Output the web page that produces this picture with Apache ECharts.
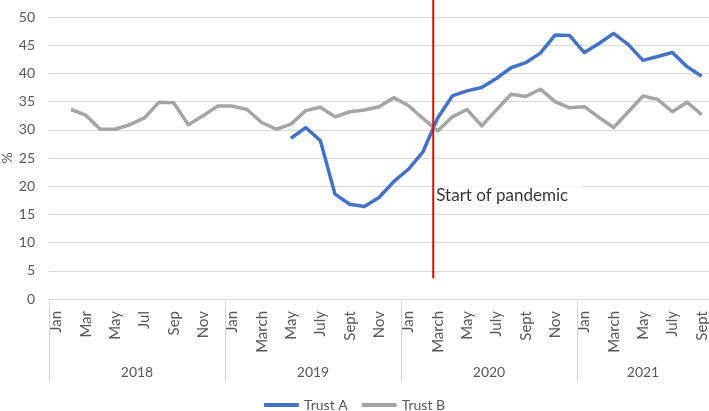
<!DOCTYPE html>
<html>
<head>
<meta charset="utf-8">
<script src="https://cdn.jsdelivr.net/npm/echarts@6/dist/echarts.min.js"></script>
<style>html,body{margin:0;padding:0;background:#fff;}#c{width:709px;height:411px;}</style>
</head>
<body>
<div id="c"></div>
<script>
// Monthly categories Jan 2018 .. Sept 2021
const months = [
  'Jan','Feb','Mar','Apr','May','Jun','Jul','Aug','Sep','Oct','Nov','Dec',
  'Jan','Feb','March','Apr','May','June','July','Aug','Sept','Oct','Nov','Dec',
  'Jan','Feb','March','Apr','May','June','July','Aug','Sept','Oct','Nov','Dec',
  'Jan','Feb','March','Apr','May','June','July','Aug','Sept'
];
const years = ['2018','2019','2020','2021'];
const monthsPerYear = [12, 12, 12, 9];

const trustA = [
  null,null,null,null,null,null,null,null,null,null,null,null,
  null,null,null,null,28.5,30.4,28.1,18.6,16.8,16.4,18.0,20.8,
  23.0,26.1,32.1,36.0,36.9,37.5,39.1,41.0,41.9,43.6,46.8,46.7,
  43.7,45.3,47.1,45.1,42.3,43.0,43.7,41.2,39.5
];
const trustB = [
  null,33.6,32.6,30.1,30.1,30.9,32.1,34.9,34.8,30.9,32.5,34.2,
  34.2,33.6,31.3,30.1,31.0,33.4,34.0,32.3,33.2,33.5,34.1,35.7,
  34.3,32.0,29.8,32.3,33.6,30.7,33.5,36.3,35.9,37.2,35.0,33.9,
  34.1,32.2,30.4,33.2,36.0,35.4,33.2,34.9,32.7
];
// Start of pandemic, in months elapsed since the start of Jan 2018
const pandemicStart = 26.2;
const pandemicLine = [3.7, 53];
const pandemicLabelY = 18.3;
const pandemicText = 'Start of pandemic';

// Year-level labels: one label per year, centred on its span
const yearAxisData = months.map(() => '');
const yearShift = months.map(() => false);
let start = 0;
years.forEach((y, i) => {
  const n = monthsPerYear[i];
  const idx = start + Math.floor(n / 2);
  yearAxisData[idx] = y;
  yearShift[idx] = (n % 2 === 0);
  start += n;
});
const yearStarts = [];
start = 0;
monthsPerYear.forEach(n => { yearStarts.push(start); start += n; });

const FONT = 'Lato, "Open Sans", sans-serif';
const chart = echarts.init(document.getElementById('c'), null, {renderer: 'canvas'});
const band = 660 / months.length;

chart.setOption({
  animation: false,
  textStyle: {fontFamily: FONT},
  grid: {left: 49, right: 0, top: 17, bottom: 112, containLabel: false, outerBoundsMode: 'none'},
  xAxis: [
    {
      type: 'category', data: months, boundaryGap: true,
      axisLine: {show: true, lineStyle: {color: '#d9d9d9', width: 1}},
      axisTick: {show: false},
      axisLabel: {interval: 1, rotate: 90, margin: 12, color: '#595959', fontSize: 15, fontFamily: FONT}
    },
    {
      type: 'category', data: yearAxisData, boundaryGap: true, position: 'bottom',
      axisLine: {show: false},
      axisTick: {show: true, length: 83, lineStyle: {color: '#d9d9d9', width: 1},
        interval: (idx) => yearStarts.indexOf(idx) >= 0},
      axisLabel: {interval: 0, margin: 66, color: '#595959', fontSize: 14, fontFamily: FONT,
        formatter: (v, idx) => v === '' ? '' : (yearShift[idx] ? '{s|' + v + '}' : '{c|' + v + '}'),
        rich: {
          s: {padding: [0, band, 0, 0], fontSize: 14, color: '#595959', fontFamily: FONT},
          c: {fontSize: 14, color: '#595959', fontFamily: FONT}
        }
      }
    },
    {
      type: 'value', min: 0, max: months.length, show: false
    }
  ],
  yAxis: {
    type: 'value', min: 0, max: 50, interval: 5,
    name: '%', nameLocation: 'middle', nameGap: 35, nameRotate: 90, nameMoveOverlap: false,
    nameTextStyle: {color: '#595959', fontSize: 14, fontFamily: FONT},
    axisLine: {show: false}, axisTick: {show: false},
    axisLabel: {color: '#595959', fontSize: 14, margin: 14, fontFamily: FONT},
    splitLine: {lineStyle: {color: '#d9d9d9', width: 1}}
  },
  legend: {
    data: ['Trust A', 'Trust B'], bottom: -6, left: 'center',
    icon: 'roundRect', itemWidth: 35, itemHeight: 4, itemGap: 14,
    textStyle: {color: '#595959', fontSize: 14, fontFamily: FONT}
  },
  series: [
    {name: 'Trust A', type: 'line', data: trustA, symbol: 'none', smooth: false,
     lineStyle: {color: '#4472C4', width: 3.5, join: 'round'}, itemStyle: {color: '#4472C4'}},
    {name: 'Trust B', type: 'line', data: trustB, symbol: 'none',
     lineStyle: {color: '#A5A5A5', width: 3.5, join: 'round'}, itemStyle: {color: '#A5A5A5'}},
    {name: 'pandemic', type: 'line', xAxisIndex: 2, clip: false, symbol: 'none', silent: true,
     data: pandemicLine.map(y => [pandemicStart, y]),
     lineStyle: {color: '#E00000', width: 2}, z: 5},
    {name: 'pandemicLabel', type: 'scatter', xAxisIndex: 2, symbolSize: 0, silent: true,
     data: [[pandemicStart, pandemicLabelY]],
     label: {show: true, position: 'right', distance: 0, formatter: pandemicText,
       color: '#000', fontSize: 17, fontFamily: FONT, backgroundColor: '#fff',
       padding: [8, 14, 8, 3]}, z: 4}
  ]
});
</script>
</body>
</html>
